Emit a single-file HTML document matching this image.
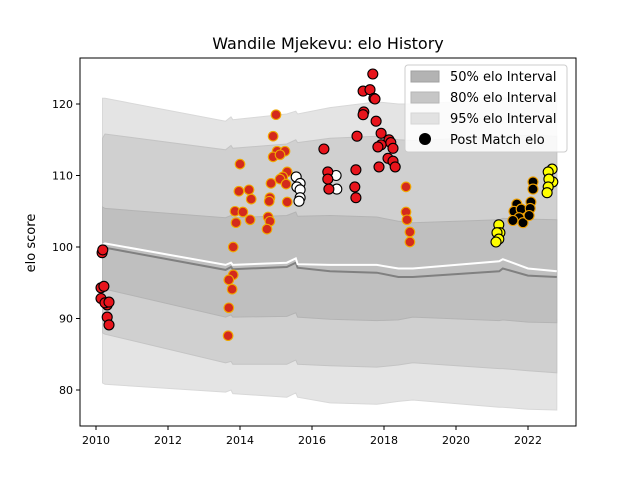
<!DOCTYPE html>
<html><head><meta charset="utf-8">
<style>body{margin:0;background:#fff}svg{display:block;font-family:"DejaVu Sans","Liberation Sans",sans-serif}</style>
</head><body>
<svg id="chart" width="640" height="480" viewBox="0 0 640 480">
<rect width="640" height="480" fill="#fff"/>
<text x="328" y="49" text-anchor="middle" font-size="16">Wandile Mjekevu: elo History</text>
<g id="plot"></g>
<g id="axes"></g>
<text transform="translate(35,243) rotate(-90)" text-anchor="middle" font-size="13">elo score</text>
<g>
<rect x="405" y="65" width="162" height="87" rx="3" fill="#fff" fill-opacity="0.85" stroke="#ccc"/>
<rect x="411" y="71" width="28" height="11" fill="#b3b3b3" stroke="#a0a0a0"/>
<text x="450" y="81" font-size="13">50% elo Interval</text>
<rect x="411" y="92" width="28" height="11" fill="#c6c6c6" stroke="#b6b6b6"/>
<text x="450" y="102" font-size="13">80% elo Interval</text>
<rect x="411" y="113" width="28" height="11" fill="#e2e2e2" stroke="#d6d6d6"/>
<text x="450" y="123" font-size="13">95% elo Interval</text>
<circle cx="425" cy="139" r="6" fill="#000"/>
<text x="450" y="144" font-size="13">Post Match elo</text>
</g>
</svg>
<script>
const bandT  = [2010.18,2010.25,2013.6,2013.75,2013.8,2015.3,2015.55,2015.6,2016.5,2017.8,2018.4,2018.8,2021.2,2021.3,2022.0,2022.8];
const q95hi  = [120.8,120.8,117.6,118.2,117.8,118.6,119.0,118.6,119.5,120.3,120.0,120.0,120.6,120.8,121.0,121.2];
const q80hi  = [115.2,115.8,113.6,114.2,113.8,114.4,115.0,114.6,115.2,115.5,115.0,114.9,115.4,115.6,115.6,115.5];
const q50hi  = [105.6,105.4,104.1,104.4,104.1,104.4,104.9,104.3,104.4,104.2,103.6,103.4,103.8,104.0,103.9,103.8];
const meanL  = [100.0,99.9,96.8,97.2,96.9,97.2,97.8,97.1,96.6,96.4,95.8,95.8,96.6,97.0,96.0,95.8];
const ratingL= [100.3,100.5,97.5,97.8,97.5,97.8,98.4,97.6,97.5,97.5,97.0,97.0,98.0,98.3,97.0,96.6];
const q50lo  = [94.3,94.1,90.2,90.5,90.2,90.3,90.8,90.2,89.9,89.7,89.8,90.2,89.7,89.8,89.5,89.4];
const q80lo  = [88.0,87.8,83.8,84.0,83.6,83.6,84.2,83.6,83.4,83.2,83.5,83.8,83.0,83.0,82.7,82.4];
const q95lo  = [81.0,80.8,79.7,80.0,79.5,79.0,79.6,79.0,78.2,78.0,78.4,78.6,77.6,77.6,77.3,77.2];

const groupA = [[2010.17,99.2],[2010.19,99.6],[2010.14,94.3],[2010.22,94.5],[2010.14,92.8],[2010.31,91.9],[2010.25,92.2],[2010.36,92.3],[2010.31,90.2],[2010.36,89.1]];
const groupB = [[2015.0,118.5],[2014.92,115.5],[2015.03,113.4],[2015.25,113.4],[2014.92,112.6],[2015.11,112.9],[2014.0,111.6],[2015.31,110.5],[2015.19,109.8],[2015.11,109.5],[2015.28,108.8],[2014.86,108.9],[2013.97,107.8],[2014.25,108.0],[2014.31,106.7],[2014.83,106.9],[2014.81,106.4],[2015.31,106.3],[2013.86,105.0],[2014.08,104.9],[2013.89,103.4],[2014.28,103.8],[2014.78,104.2],[2014.83,103.6],[2014.75,102.5],[2013.81,100.0],[2013.81,96.1],[2013.69,95.4],[2013.78,94.1],[2013.69,91.5],[2013.67,87.6]];
const groupC = [[2015.56,109.8],[2015.67,108.9],[2015.58,108.4],[2015.67,108.0],[2015.67,106.9],[2015.64,106.4],[2016.67,110.0],[2016.69,108.1]];
const groupD = [[2016.33,113.7],[2016.44,110.5],[2016.44,109.5],[2016.47,108.1],[2017.25,115.5],[2017.22,110.8],[2017.19,108.4],[2017.22,106.9],[2017.69,124.2],[2017.42,121.8],[2017.61,122.0],[2017.72,120.8],[2017.75,120.7],[2017.44,118.9],[2017.42,118.5],[2017.78,117.6],[2017.92,115.9],[2018.14,115.0],[2018.19,114.6],[2017.92,114.3],[2017.83,114.0],[2018.25,113.8],[2018.11,112.4],[2018.25,112.0],[2018.31,111.2],[2017.86,111.2]];
const groupE = [[2018.61,108.4],[2018.61,104.9],[2018.64,103.8],[2018.72,102.1],[2018.72,100.7]];
const groupF = [[2021.19,103.1],[2021.22,102.0],[2021.14,102.0],[2021.19,101.1],[2021.11,100.7]];
const groupG = [[2021.69,106.0],[2021.61,105.0],[2021.81,105.3],[2021.75,104.1],[2021.58,103.7],[2021.86,103.4],[2022.08,106.3],[2022.06,105.4],[2022.03,104.4],[2022.14,109.1],[2022.14,108.1]];
const groupH = [[2022.67,110.9],[2022.56,110.5],[2022.69,109.1],[2022.58,109.5],[2022.56,108.4],[2022.53,107.6]];

const xTicks = [2010,2012,2014,2016,2018,2020,2022];
const yTicks = [80,90,100,110,120];

const NS = "http://www.w3.org/2000/svg";
const L=80,R=576,T=58,B=426;
function xS(v){return 96+(v-2010)*36;}
function yS(v){return 104+(120-v)*7.15;}
const plot=document.getElementById('plot'), axes=document.getElementById('axes');
function mk(tag,attrs,parent){const e=document.createElementNS(NS,tag);for(const k in attrs)e.setAttribute(k,attrs[k]);parent.appendChild(e);return e;}
function bandPath(hi,lo){let d='';bandT.forEach((t,i)=>{d+=(i?'L':'M')+xS(t).toFixed(1)+','+yS(hi[i]).toFixed(1);});for(let i=bandT.length-1;i>=0;i--)d+='L'+xS(bandT[i]).toFixed(1)+','+yS(lo[i]).toFixed(1);return d+'Z';}
function linePath(a){return bandT.map((t,i)=>(i?'L':'M')+xS(t).toFixed(1)+','+yS(a[i]).toFixed(1)).join('');}
let e;
e=mk('path',{d:bandPath(q95hi,q95lo),fill:'#e4e4e4',stroke:'#d8d8d8'},plot);


e=mk('path',{d:bandPath(q80hi,q80lo),fill:'#d0d0d0',stroke:'#c4c4c4'},plot);


e=mk('path',{d:bandPath(q50hi,q50lo),fill:'#bfbfbf',stroke:'#b4b4b4'},plot);


e=mk('path',{d:linePath(meanL),fill:'none',stroke:'#808080','stroke-width':2},plot);


e=mk('path',{d:linePath(ratingL),fill:'none',stroke:'#ffffff','stroke-width':2},plot);


function pts(arr,fill,stroke,r,name){arr.forEach(p=>{const c=mk('circle',{cx:xS(p[0]).toFixed(1),cy:yS(p[1]).toFixed(1),r:r,fill:fill,stroke:stroke,'stroke-width':1.1},plot);

});}
pts(groupA,'#e8141c','#000',5,'match-point-red');
pts(groupB,'#d42a1c','#f0a800',4.8,'match-point-red-orange');
pts(groupC,'#ffffff','#000',5,'match-point-white');
pts(groupD,'#e8141c','#000',5,'match-point-red');
pts(groupE,'#d42a1c','#f0a800',4.8,'match-point-red-orange');
pts(groupF,'#ffff00','#000',5,'match-point-yellow');
pts(groupG,'#000000','#f0a000',5,'match-point-black');
pts(groupH,'#ffff00','#000',5,'match-point-yellow');
e=mk('rect',{x:L,y:T,width:R-L,height:B-T,fill:'none',stroke:'#000','stroke-width':1},axes);


xTicks.forEach(t=>{const x=xS(t);mk('line',{x1:x,x2:x,y1:B,y2:B+4,stroke:'#000'},axes);const tx=mk('text',{x:x,y:B+18,'text-anchor':'middle','font-size':11},axes);tx.textContent=t;

});
yTicks.forEach(t=>{const y=yS(t);mk('line',{x1:L-4,x2:L,y1:y,y2:y,stroke:'#000'},axes);const tx=mk('text',{x:L-7,y:y+4,'text-anchor':'end','font-size':11},axes);tx.textContent=t;

});
</script>
</body></html>
